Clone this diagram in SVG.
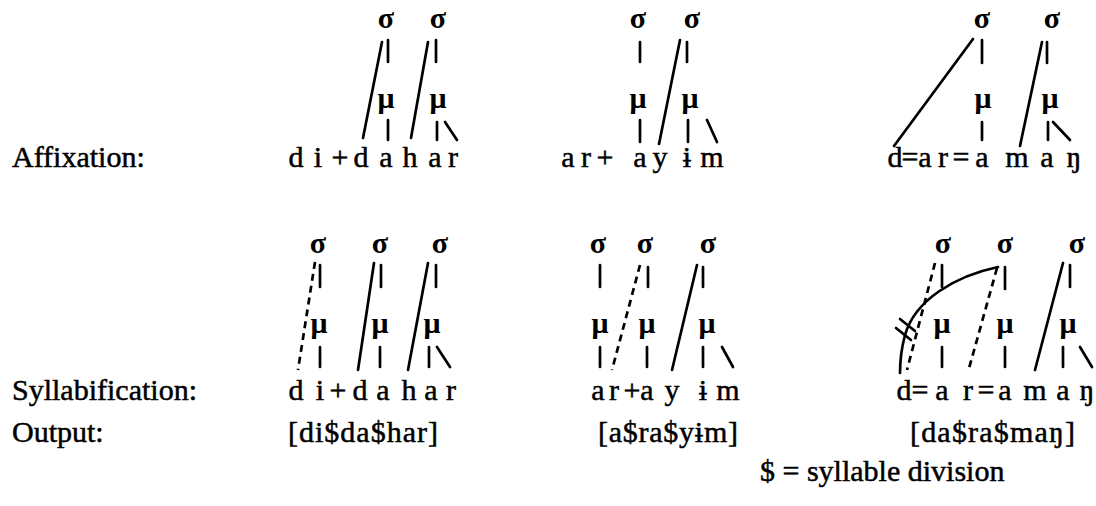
<svg xmlns="http://www.w3.org/2000/svg" width="1096" height="506" viewBox="0 0 1096 506">
<style>
.lab{font-family:"Liberation Serif","DejaVu Serif",serif;font-size:30px;fill:#000;stroke:#000;stroke-width:0.5}
.seg{font-family:"Liberation Serif","DejaVu Serif",serif;font-size:30px;fill:#000;stroke:#000;stroke-width:0.5}
.sig{font-family:"Liberation Serif","DejaVu Serif",serif;font-size:30px;font-weight:bold;text-anchor:middle;fill:#000}
.mu{font-family:"Liberation Serif","DejaVu Serif",serif;font-size:30px;font-weight:bold;text-anchor:middle;fill:#000}
.ln{stroke:#000;stroke-width:2.7;stroke-linecap:round;fill:none}
.dash{stroke-dasharray:7 5;stroke-linecap:butt}
</style>
<rect width="1096" height="506" fill="#fff"/>
<g id="labels">
<text class="lab" x="12" y="167">Affixation:</text>
<text class="lab" x="12" y="400">Syllabification:</text>
<text class="lab" x="12" y="442">Output:</text>
</g>
<!-- Tree 1 -->
<g id="t1-s1"><text class="sig" x="386" y="28">σ</text></g>
<g id="t1-s2"><text class="sig" x="438" y="28">σ</text></g>
<g id="t1-m1"><text class="mu" x="386" y="108">μ</text></g>
<g id="t1-m2"><text class="mu" x="438" y="108">μ</text></g>
<g id="t1-seg"><text class="seg" y="167"><tspan x="288.5">d</tspan> <tspan x="313.8">i</tspan> <tspan x="331.5">+</tspan><tspan x="353.5">d</tspan> <tspan x="379.3">a</tspan> <tspan x="402.5">h</tspan> <tspan x="428.3">a</tspan> <tspan x="448">r</tspan></text></g>
<!-- Tree 2 -->
<g id="t2-s1"><text class="sig" x="638" y="28">σ</text></g>
<g id="t2-s2"><text class="sig" x="692" y="28">σ</text></g>
<g id="t2-m1"><text class="mu" x="638" y="108">μ</text></g>
<g id="t2-m2"><text class="mu" x="690" y="108">μ</text></g>
<g id="t2-seg"><text class="seg" y="167"><tspan x="561.3">a</tspan> <tspan x="581">r</tspan><tspan x="596.5">+</tspan> <tspan x="633.3">a</tspan> <tspan x="652.5">y</tspan> <tspan x="682.8">ɨ</tspan> <tspan x="700.3">m</tspan></text></g>
<!-- Tree 3 -->
<g id="t3-s1"><text class="sig" x="982" y="28">σ</text></g>
<g id="t3-s2"><text class="sig" x="1052" y="28">σ</text></g>
<g id="t3-m1"><text class="mu" x="983" y="108">μ</text></g>
<g id="t3-m2"><text class="mu" x="1050" y="108">μ</text></g>
<g id="t3-seg"><text class="seg" y="167"><tspan x="887.5">d</tspan><tspan x="901.5">=</tspan><tspan x="918.3">a</tspan> <tspan x="938">r</tspan> <tspan x="952.5">=</tspan> <tspan x="975.3">a</tspan> <tspan x="1005.3">m</tspan> <tspan x="1040.3">a</tspan> <tspan x="1066.5">ŋ</tspan></text></g>
<!-- Tree 4 -->
<g id="t4-s1"><text class="sig" x="318" y="253">σ</text></g>
<g id="t4-s2"><text class="sig" x="380" y="253">σ</text></g>
<g id="t4-s3"><text class="sig" x="440" y="253">σ</text></g>
<g id="t4-m1"><text class="mu" x="319" y="333">μ</text></g>
<g id="t4-m2"><text class="mu" x="380" y="333">μ</text></g>
<g id="t4-m3"><text class="mu" x="432" y="333">μ</text></g>
<g id="t4-seg"><text class="seg" y="400"><tspan x="288.5">d</tspan> <tspan x="315.8">i</tspan> <tspan x="329.5">+</tspan> <tspan x="352.5">d</tspan> <tspan x="376.3">a</tspan> <tspan x="401.5">h</tspan> <tspan x="424.3">a</tspan> <tspan x="446">r</tspan></text></g>
<!-- Tree 5 -->
<g id="t5-s1"><text class="sig" x="598" y="253">σ</text></g>
<g id="t5-s2"><text class="sig" x="645" y="253">σ</text></g>
<g id="t5-s3"><text class="sig" x="708" y="253">σ</text></g>
<g id="t5-m1"><text class="mu" x="600" y="333">μ</text></g>
<g id="t5-m2"><text class="mu" x="647" y="333">μ</text></g>
<g id="t5-m3"><text class="mu" x="707" y="333">μ</text></g>
<g id="t5-seg"><text class="seg" y="400"><tspan x="591.3">a</tspan> <tspan x="609">r</tspan> <tspan x="623.5">+</tspan><tspan x="640.3">a</tspan> <tspan x="664.5">y</tspan> <tspan x="698.8">ɨ</tspan> <tspan x="716.3">m</tspan></text></g>
<!-- Tree 6 -->
<g id="t6-s1"><text class="sig" x="943" y="253">σ</text></g>
<g id="t6-s2"><text class="sig" x="1005" y="253">σ</text></g>
<g id="t6-s3"><text class="sig" x="1077" y="253">σ</text></g>
<g id="t6-m1"><text class="mu" x="942" y="333">μ</text></g>
<g id="t6-m2"><text class="mu" x="1005" y="333">μ</text></g>
<g id="t6-m3"><text class="mu" x="1068" y="333">μ</text></g>
<g id="t6-seg"><text class="seg" y="400"><tspan x="896.5">d</tspan><tspan x="911.5">=</tspan> <tspan x="935.3">a</tspan> <tspan x="963">r</tspan> <tspan x="977.5">=</tspan><tspan x="998.3">a</tspan> <tspan x="1023.3">m</tspan> <tspan x="1056.3">a</tspan> <tspan x="1079.5">ŋ</tspan></text></g>
<!-- Output -->
<g id="out1"><text class="seg" x="288" y="442" textLength="150" lengthAdjust="spacing">[di$da$har]</text></g>
<g id="out2"><text class="seg" x="598" y="442" textLength="140" lengthAdjust="spacing">[a$ra$yɨm]</text></g>
<g id="out3"><text class="seg" x="910" y="442" textLength="165" lengthAdjust="spacing">[da$ra$maŋ]</text></g>
<g id="legend"><text class="seg" x="760" y="481">$ = syllable division</text></g>
<g id="connectors" class="ln">
<!-- tree 1 -->
<line x1="388" y1="40" x2="388" y2="62"/>
<line x1="436" y1="40" x2="436" y2="62"/>
<line x1="382" y1="42" x2="363" y2="138"/>
<line x1="428" y1="42" x2="411" y2="138"/>
<line x1="388" y1="120" x2="388" y2="140"/>
<line x1="437" y1="122" x2="437" y2="140"/>
<line x1="445" y1="122" x2="457" y2="140"/>
<!-- tree 2 -->
<line x1="640" y1="42" x2="640" y2="62"/>
<line x1="687" y1="42" x2="687" y2="62"/>
<line x1="680" y1="40" x2="659" y2="144"/>
<line x1="640" y1="120" x2="640" y2="142"/>
<line x1="688" y1="120" x2="688" y2="142"/>
<line x1="707" y1="120" x2="717" y2="142"/>
<!-- tree 3 -->
<line x1="982" y1="40" x2="982" y2="63"/>
<line x1="1047" y1="42" x2="1047" y2="63"/>
<line x1="973" y1="39" x2="894" y2="146"/>
<line x1="1042" y1="42" x2="1020" y2="146"/>
<line x1="982" y1="122" x2="982" y2="140"/>
<line x1="1048" y1="122" x2="1048" y2="140"/>
<line x1="1053" y1="122" x2="1070" y2="140"/>
<!-- tree 4 -->
<line x1="320" y1="265" x2="320" y2="287"/>
<line x1="381" y1="265" x2="381" y2="287"/>
<line x1="436" y1="265" x2="436" y2="287"/>
<line class="dash" x1="315" y1="262" x2="298" y2="370"/>
<line x1="374" y1="263" x2="358" y2="370"/>
<line x1="428" y1="263" x2="408" y2="370"/>
<line x1="320" y1="347" x2="320" y2="367"/>
<line x1="380" y1="347" x2="380" y2="367"/>
<line x1="429" y1="347" x2="429" y2="367"/>
<line x1="437" y1="347" x2="450" y2="367"/>
<!-- tree 5 -->
<line x1="600" y1="265" x2="600" y2="287"/>
<line x1="648" y1="267" x2="648" y2="287"/>
<line x1="703" y1="267" x2="703" y2="287"/>
<line class="dash" x1="640" y1="265" x2="612" y2="370"/>
<line x1="697" y1="265" x2="672" y2="370"/>
<line x1="600" y1="347" x2="600" y2="367"/>
<line x1="647" y1="347" x2="647" y2="367"/>
<line x1="703" y1="347" x2="703" y2="367"/>
<line x1="722" y1="347" x2="733" y2="367"/>
<!-- tree 6 -->
<line x1="942" y1="265" x2="942" y2="287"/>
<line x1="1005" y1="267" x2="1005" y2="289"/>
<line x1="1070" y1="265" x2="1070" y2="287"/>
<line class="dash" x1="935" y1="263" x2="907" y2="370"/>
<line class="dash" x1="997" y1="268" x2="968" y2="372"/>
<line x1="1063" y1="263" x2="1035" y2="370"/>
<line x1="942" y1="347" x2="942" y2="367"/>
<line x1="1005" y1="347" x2="1005" y2="367"/>
<line x1="1063" y1="347" x2="1063" y2="367"/>
<line x1="1080" y1="347" x2="1092" y2="367"/>
<path d="M998,267 C955,276 915,300 905,335 C901,350 900,360 900,373"/>
<line x1="896" y1="328" x2="911" y2="340"/>
<line x1="900" y1="319" x2="915" y2="331"/>
</g>
</svg>
